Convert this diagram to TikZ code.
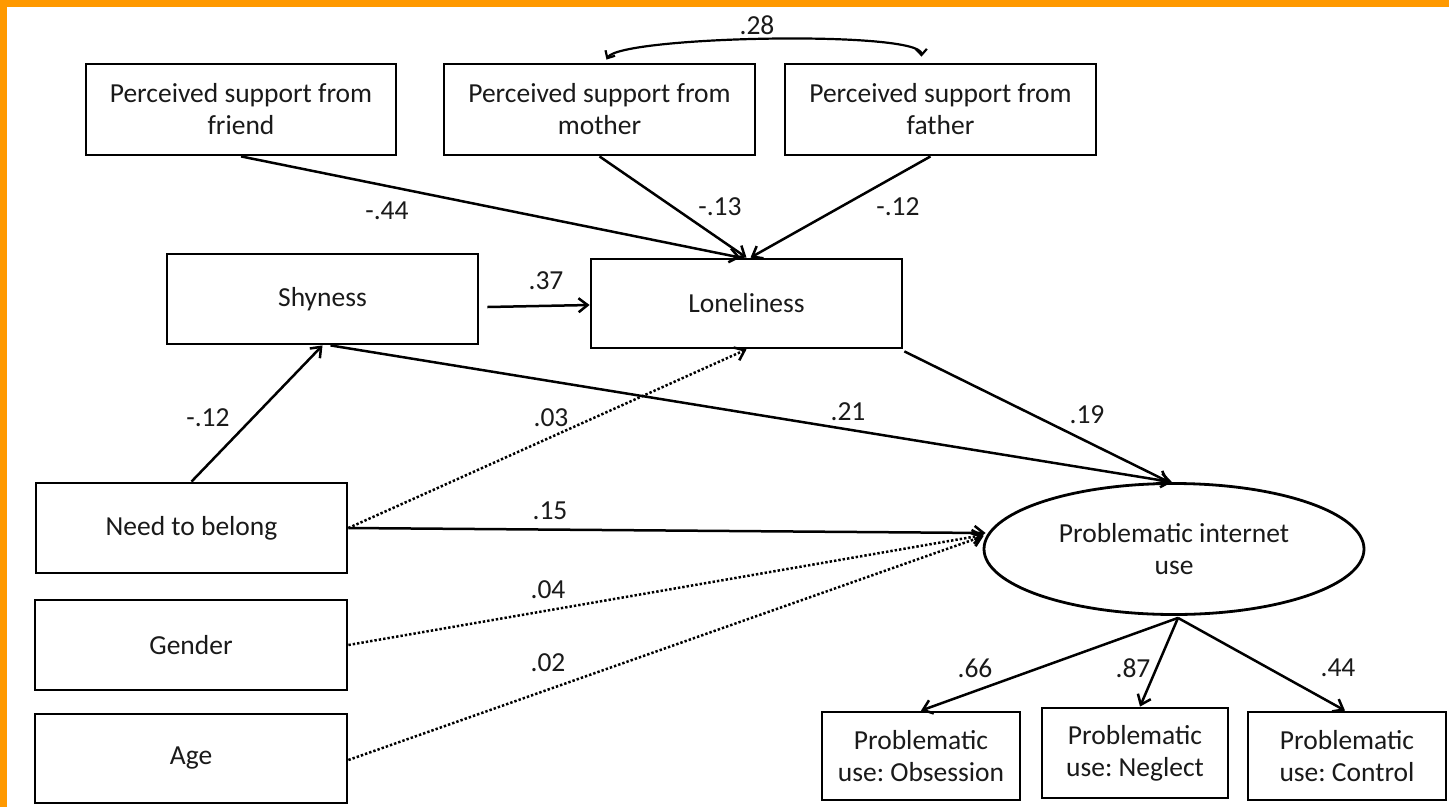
\documentclass[tikz,border=0pt]{standalone}
\usepackage{fontspec}
\setmainfont{Carlito}
\frenchspacing
\usetikzlibrary{arrows.meta,calc,shapes.geometric}
\definecolor{frame}{HTML}{FF9900}
\definecolor{ink}{HTML}{1A1A1A}
\tikzset{
  box/.style={draw=black, line width=2.8pt, rectangle, inner sep=0pt, align=center, text=ink,
              font=\fontsize{27.5}{32}\selectfont},
  latent/.style={draw=black, line width=2.8pt, ellipse, inner sep=0pt, align=center, text=ink,
              minimum width=380pt, minimum height=131pt, font=\fontsize{27.5}{32}\selectfont},
  path/.style={line width=2.5pt, -{Straight Barb[length=9pt,width=14pt,line width=2.5pt]}},
  weak/.style={path, dash pattern=on 2.4pt off 2pt},
  coef/.style={text=ink, inner sep=0pt, font=\fontsize{27.5}{32}\selectfont},
}
\begin{document}
\begin{tikzpicture}[x=1pt,y=-1pt]
\useasboundingbox (0,0) rectangle (1449,807);
\fill[white] (0,0) rectangle (1449,807);
\fill[frame] (0,0) rectangle (1449,7);
\fill[frame] (0,0) rectangle (7,807);

% observed boxes
\node[box, minimum width=310pt, minimum height=91pt] (friend) at (241,109.5) {Perceived support from\\friend};
\node[box, minimum width=311pt, minimum height=91pt] (mother) at (599.5,109.5) {Perceived support from\\mother};
\node[box, minimum width=311pt, minimum height=91pt] (father) at (940.5,109.5) {Perceived support from\\father};
\node[box, minimum width=311pt, minimum height=90pt] (shy) at (322.5,299) {Shyness};
\node[box, minimum width=311pt, minimum height=89pt] (lone) at (746.5,303.5) {Loneliness};
\node[box, minimum width=311pt, minimum height=90pt] (need) at (191.5,528) {Need to belong};
\node[box, minimum width=312pt, minimum height=90pt] (gender) at (191,645) {Gender};
\node[box, minimum width=312pt, minimum height=89pt] (age) at (191,758.5) {Age};
\node[latent] (piu) at (1174,549) {Problematic internet\\use};
\node[box, minimum width=198pt, minimum height=88pt] (obs) at (921,756) {Problematic\\use: Obsession};
\node[box, minimum width=186pt, minimum height=90pt] (neg) at (1135,753) {Problematic\\use: Neglect};
\node[box, minimum width=198pt, minimum height=88pt] (ctrl) at (1347,756) {Problematic\\use: Control};

% correlation
\draw[line width=2.2pt, {Straight Barb[length=6pt,width=11pt,line width=2.2pt]}-{Straight Barb[length=6pt,width=11pt,line width=2.2pt]}]
  ($(mother.north)+(7,-3)$) .. controls (620,36) and (921,30) .. ($(father.north)+(-19,-6)$);
\node[coef] (c28) at (757,25) {.28};

% paths to loneliness
\draw[path] (friend.south) -- ($(lone.north)+(-6,0)$);
\draw[path] (mother.south) -- (lone.north);
\draw[path] ($(father.south)+(-10,0)$) -- ($(lone.north)+(4,0)$);
\node[coef] (c44) at (387,211) {-.44};
\node[coef] (c13) at (720,207) {-.13};
\node[coef] (c12a) at (898,207) {-.12};

\draw[path] ($(shy.east)+(8,8)$) -- ($(lone.west)+(0,1.5)$);
\node[coef] (c37) at (546,281) {.37};

\draw[path] (need.north) -- (shy.south);
\node[coef] (c12b) at (208,418) {-.12};

\draw[weak] (need.east) -- (lone.south);
\node[coef] (c03) at (551,418) {.03};

\draw[path] ($(shy.south)+(8,0)$) -- ($(piu.north)+(-2,0)$);
\node[coef] (c21) at (848,412) {.21};

\draw[path] ($(lone.south east)+(1,2)$) -- ($(piu.north)+(-5,0)$);
\node[coef] (c19) at (1087,415) {.19};

\draw[path] (need.east) -- ($(piu.west)+(3,-16)$);
\node[coef] (c15) at (550,511) {.15};
\draw[weak] (gender.east) -- ($(piu.west)+(1,-14)$);
\node[coef] (c04) at (548,590) {.04};
\draw[weak] ($(age.east)+(0,1.5)$) -- ($(piu.west)+(1,-13)$);
\node[coef] (c02) at (548,663) {.02};

% measurement
\draw[path] ($(piu.south)+(4,2)$) -- (obs.north);
\draw[path] ($(piu.south)+(4,2)$) -- ($(neg.north)+(5,0)$);
\draw[path] ($(piu.south)+(4,2)$) -- ($(ctrl.north)+(-2,0)$);
\node[coef] (c66) at (975,668) {.66};
\node[coef] (c87) at (1133,668) {.87};
\node[coef] (c44b) at (1338,668) {.44};
\end{tikzpicture}
\end{document}
